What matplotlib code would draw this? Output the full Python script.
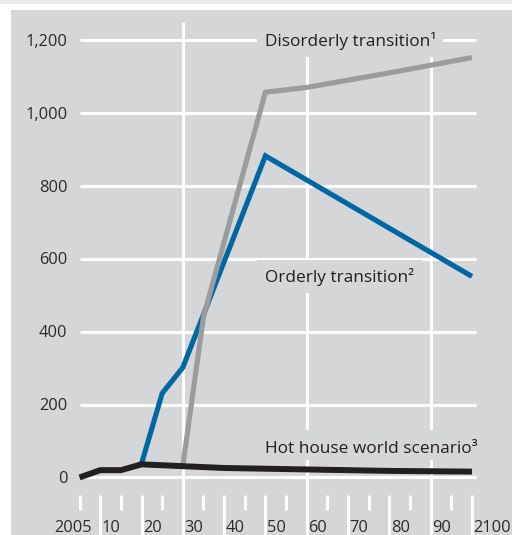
import matplotlib
matplotlib.use('Agg')
import matplotlib.pyplot as plt
from matplotlib.patches import Rectangle

# data
years_hot = [2005, 2010, 2015, 2020, 2030, 2040, 2050, 2060, 2070, 2080, 2090, 2100]
hot = [0, 20, 20, 36, 31, 26, 24, 22, 20, 18, 17, 16]
years_orderly = [2020, 2025, 2030, 2050, 2100]
orderly = [38, 231, 302, 883, 552]
years_disorderly = [2030, 2035, 2050, 2060, 2070, 2080, 2090, 2100]
disorderly = [32, 441, 1058, 1071, 1091, 1111, 1132, 1153]

y_ticks = [0, 200, 400, 600, 800, 1000, 1200]
y_labels = ['0', '200', '400', '600', '800', '1,000', '1,200']
x_ticks = [2005, 2010, 2020, 2030, 2040, 2050, 2060, 2070, 2080, 2090, 2100]
x_labels = ['2005', '10', '20', '30', '40', '50', '60', '70', '80', '90', '2100']
x_half = [2005, 2015, 2025, 2035, 2045, 2055, 2065, 2075, 2085, 2095]
x_grid = [2030, 2060, 2090]

bg = '#d5d6d8'
txt = '#2b2a2a'
plt.rcParams['font.family'] = ['Open Sans', 'DejaVu Sans']

fig = plt.figure(figsize=(5.12, 5.35), dpi=100)
fig.patches.append(Rectangle((0, 1 - 3.5 / 535), 1, 3.5 / 535, transform=fig.transFigure,
                             facecolor='#ececee', edgecolor='none'))
ax = fig.add_axes([11 / 512, 0, 501 / 512, 525 / 535])
ax.set_facecolor(bg)
ax.set_xlim(1988.4, 2109.7)
ax.set_ylim(-158, 1283.6)
for s in ax.spines.values():
    s.set_visible(False)
ax.set_xticks([])
ax.set_yticks([])

# grid
ax.hlines(y_ticks, 2005, 2101, color='white', lw=2.2, zorder=1, capstyle='butt')
ax.vlines(x_grid, -160, 1252, color='white', lw=2.2, zorder=1, capstyle='butt')
ax.vlines([x for x in range(2010, 2101, 10) if x not in x_grid], -160, -48,
          color='white', lw=2.2, zorder=1)
ax.vlines(x_half, -89, -48, color='white', lw=2.2, zorder=1)

# label boxes hide the grid
ax.add_patch(Rectangle((2048, 1154), 45, 97, facecolor=bg, edgecolor='none', zorder=2))
ax.add_patch(Rectangle((2048, 507), 40, 90, facecolor=bg, edgecolor='none', zorder=2))
ax.add_patch(Rectangle((2048, 48), 55, 82, facecolor=bg, edgecolor='none', zorder=2))

for v, l in zip(y_ticks, y_labels):
    ax.text(2002, v - 15, l, ha='right', va='baseline', fontsize=11.8, color=txt)
for x, l in zip(x_ticks, x_labels):
    if x == 2005:
        ax.text(2003.4, -150, l, ha='center', va='baseline', fontsize=11.8, color=txt)
    else:
        ax.text(x + 0.4, -150, l, ha='left', va='baseline', fontsize=11.8, color=txt)

ax.plot(years_orderly, orderly, color='#0067a5', lw=3.7, zorder=4,
        solid_joinstyle='miter', solid_capstyle='butt')
ax.plot(years_disorderly, disorderly, color='#9b9c9e', lw=3.7, zorder=5,
        solid_joinstyle='miter', solid_capstyle='butt')
ax.plot(years_hot, hot, color='#231f20', lw=4.3, zorder=6,
        solid_joinstyle='miter', solid_capstyle='butt')

ax.text(2050, 1186, 'Disorderly transition\u00b9', fontsize=12.4, color='#231f20', zorder=3, va='baseline')
ax.text(2050, 536, 'Orderly transition\u00b2', fontsize=12.4, color='#231f20', zorder=3, va='baseline')
ax.text(2050, 66, 'Hot house world scenario\u00b3', fontsize=12.4, color='#231f20', zorder=3, va='baseline')

fig.savefig('out.png', dpi=100, facecolor='white')
